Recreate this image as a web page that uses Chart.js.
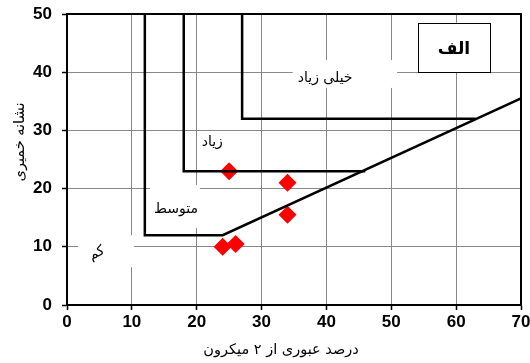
<!DOCTYPE html>
<html>
<head>
<meta charset="utf-8">
<script src="https://cdn.jsdelivr.net/npm/chart.js@4.4.1/dist/chart.umd.min.js"></script>
<style>
  html, body { margin: 0; padding: 0; background: #fff; }
  #wrap { width: 530px; height: 363px; }
</style>
</head>
<body>
<div id="wrap"><canvas id="chart" width="530" height="363"></canvas></div>
<script>
// Boundary lines of the plasticity zones (x = % passing 2 micron, y = plasticity index)
const lowLineX = [12, 12, 24, 70];
const lowLineY = [50, 12, 12, 35.5];
const midLineX = [18, 18, 46];
const midLineY = [50, 23, 23];
const highLineX = [27, 27, 63];
const highLineY = [50, 32, 32];

// Samples (red diamonds)
const sampleX = [25, 34, 34, 24, 26];
const sampleY = [23, 21, 15.5, 10, 10.5];

// Axis ticks
const xTicks = [0, 10, 20, 30, 40, 50, 60, 70];
const yTicks = [0, 10, 20, 30, 40, 50];

const xTitle = 'درصد عبوری از ۲ میکرون';
const yTitle = 'نشانه خمیری';
const panelLabel = 'الف';

// Zone labels: text, centre (data units), white box behind it (data units)
const zoneLabels = [
    { text: 'خیلی زیاد', x: 39.8, y: 39.0, box: [34.8, 42.1, 50.9, 37.3], rot: 0 },
    { text: 'زیاد', x: 22.4, y: 28.0, box: null, rot: 0 },
    { text: 'متوسط', x: 16.8, y: 16.5, box: [12.8, 20.6, 20.5, 13.2], rot: 0 },
    { text: 'کم', x: 4.6, y: 8.9, box: [1.7, 12.0, 10.3, 6.5], rot: -0.45 }
];

function toPoints(xs, ys) {
    return xs.map((x, i) => ({ x: x, y: ys[i] }));
}

const persianFont = '"DejaVu Sans", sans-serif';

const labelsPlugin = {
    id: 'labels',
    beforeDatasetsDraw(chart) {
        const ctx = chart.ctx;
        const xs = chart.scales.x, ys = chart.scales.y;
        ctx.save();
        zoneLabels.forEach(l => {
            if (l.box) {
                const x1 = xs.getPixelForValue(l.box[0]);
                const y1 = ys.getPixelForValue(l.box[1]);
                const x2 = xs.getPixelForValue(l.box[2]);
                const y2 = ys.getPixelForValue(l.box[3]);
                ctx.fillStyle = '#fff';
                ctx.fillRect(x1, y1, x2 - x1, y2 - y1);
            }
        });
        ctx.fillStyle = '#000';
        ctx.font = '14px ' + persianFont;
        ctx.textAlign = 'center';
        ctx.textBaseline = 'middle';
        zoneLabels.forEach(l => {
            ctx.save();
            ctx.translate(xs.getPixelForValue(l.x), ys.getPixelForValue(l.y));
            ctx.rotate(l.rot);
            ctx.fillText(l.text, 0, 0);
            ctx.restore();
        });
        ctx.restore();
    },
    afterDraw(chart) {
        const ctx = chart.ctx;
        const a = chart.chartArea;
        const xs = chart.scales.x, ys = chart.scales.y;
        ctx.save();
        // frame around plot area
        ctx.strokeStyle = '#000';
        ctx.lineWidth = 2;
        ctx.strokeRect(a.left, a.top, a.right - a.left, a.bottom - a.top);

        // panel label box
        const bx1 = xs.getPixelForValue(54.1), bx2 = xs.getPixelForValue(65.2);
        const by1 = ys.getPixelForValue(48.5), by2 = ys.getPixelForValue(40.0);
        ctx.fillStyle = '#fff';
        ctx.fillRect(bx1, by1, bx2 - bx1, by2 - by1);
        ctx.lineWidth = 1;
        ctx.strokeRect(Math.round(bx1) + 0.5, Math.round(by1) + 0.5, Math.round(bx2 - bx1), Math.round(by2 - by1));
        ctx.fillStyle = '#000';
        ctx.font = 'bold 17px ' + persianFont;
        ctx.textAlign = 'center';
        ctx.textBaseline = 'middle';
        ctx.fillText(panelLabel, (bx1 + bx2) / 2, (by1 + by2) / 2 + 2);

        // axis titles
        ctx.font = '14.5px ' + persianFont;
        ctx.fillText(xTitle, 281, 350);
        ctx.font = '14.5px ' + persianFont;
        ctx.translate(20, 142);
        ctx.rotate(-Math.PI / 2);
        ctx.fillText(yTitle, 0, 0);
        ctx.restore();
    }
};

const lineStyle = {
    showLine: true,
    borderColor: '#000',
    borderWidth: 2.5,
    pointRadius: 0,
    fill: false,
    tension: 0
};

new Chart(document.getElementById('chart'), {
    type: 'scatter',
    data: {
        datasets: [
            Object.assign({ data: toPoints(lowLineX, lowLineY) }, lineStyle),
            Object.assign({ data: toPoints(midLineX, midLineY) }, lineStyle),
            Object.assign({ data: toPoints(highLineX, highLineY) }, lineStyle),
            {
                data: toPoints(sampleX, sampleY),
                pointStyle: 'rectRot',
                pointRadius: 9,
                backgroundColor: '#ff0000',
                borderColor: '#ff0000',
                borderWidth: 0,
                showLine: false
            }
        ]
    },
    options: {
        responsive: false,
        animation: false,
        layout: { padding: { top: 14, right: 9, left: 0, bottom: 0 } },
        plugins: {
            legend: { display: false },
            tooltip: { enabled: false }
        },
        scales: {
            x: {
                type: 'linear',
                min: 0,
                max: 70,
                afterBuildTicks: scale => { scale.ticks = xTicks.map(v => ({ value: v })); },
                afterFit: scale => {
                    scale.height = 58;
                    scale.paddingLeft = 0;
                    scale.paddingRight = 0;
                },
                border: { display: true, color: '#000', width: 2 },
                grid: {
                    color: '#888',
                    lineWidth: 1,
                    borderDash: [2, 2],
                    tickColor: '#000',
                    tickLength: 5,
                    tickWidth: 1.5
                },
                ticks: {
                    color: '#000',
                    padding: 2,
                    maxRotation: 0,
                    font: { family: '"Liberation Sans", Arial, sans-serif', size: 17, weight: 'bold' }
                }
            },
            y: {
                type: 'linear',
                min: 0,
                max: 50,
                afterBuildTicks: scale => { scale.ticks = yTicks.map(v => ({ value: v })); },
                afterFit: scale => {
                    scale.width = 67;
                    scale.paddingTop = 0;
                    scale.paddingBottom = 0;
                },
                border: { display: true, color: '#000', width: 2 },
                grid: {
                    color: '#888',
                    lineWidth: 1,
                    borderDash: [2, 2],
                    tickColor: '#000',
                    tickLength: 5,
                    tickWidth: 1.5
                },
                ticks: {
                    color: '#000',
                    padding: 10,
                    font: { family: '"Liberation Sans", Arial, sans-serif', size: 17, weight: 'bold' }
                }
            }
        }
    },
    plugins: [labelsPlugin]
});
</script>
</body>
</html>
